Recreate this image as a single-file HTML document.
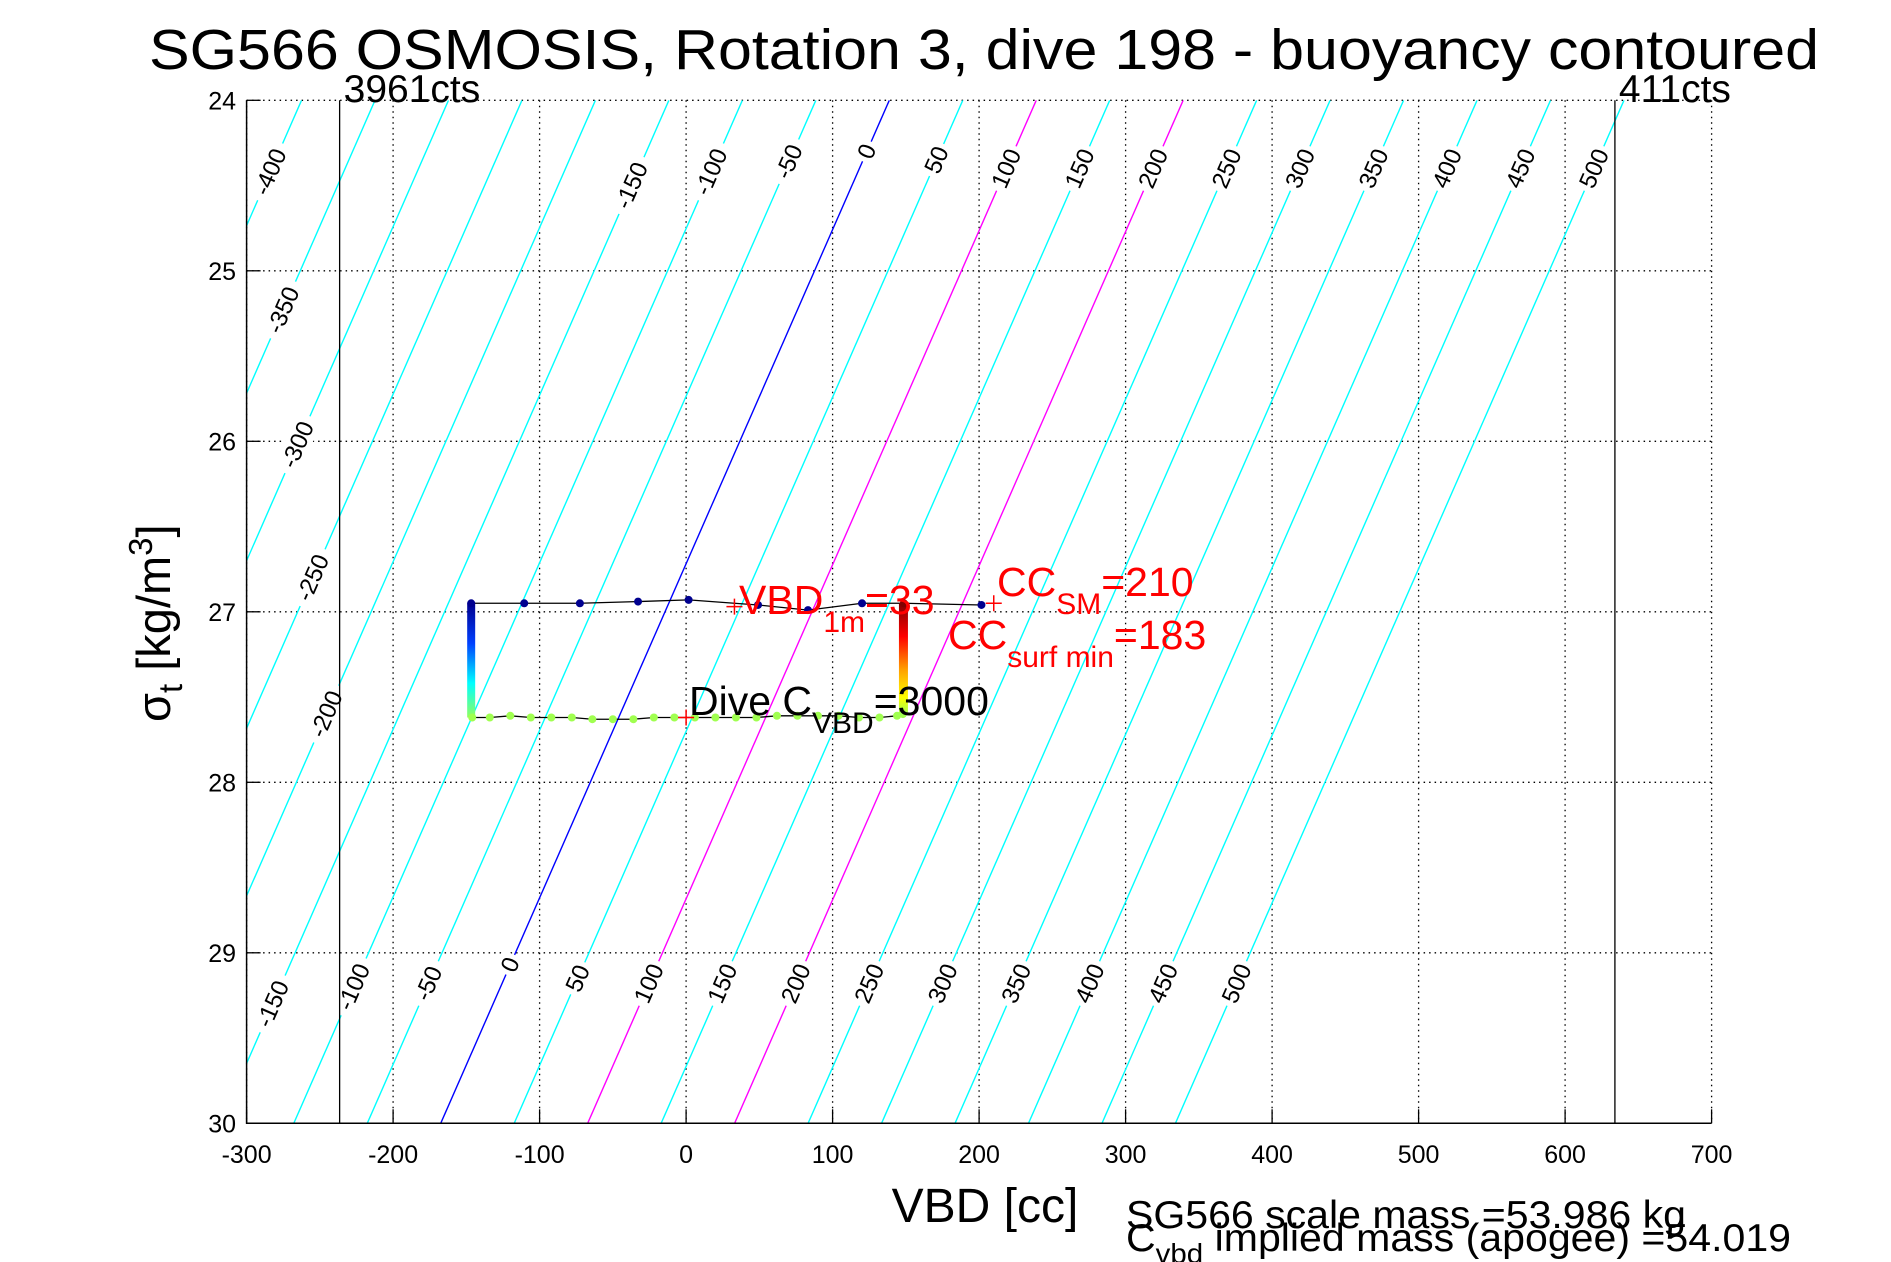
<!DOCTYPE html>
<html><head><meta charset="utf-8"><style>
html,body{margin:0;padding:0;background:#fff;}
svg{display:block;font-family:"Liberation Sans",Arial,sans-serif;}
</style></head><body>
<svg id="chart" width="1891" height="1262" viewBox="0 0 1891 1262" xmlns="http://www.w3.org/2000/svg">
<defs>
<linearGradient id="gDown" x1="0" y1="0" x2="0" y2="1">
<stop offset="0" stop-color="#00008f"/><stop offset="0.35" stop-color="#0040ff"/><stop offset="0.7" stop-color="#00ffff"/><stop offset="1" stop-color="#90ff60"/>
</linearGradient>
<linearGradient id="gUp" x1="0" y1="0" x2="0" y2="1">
<stop offset="0" stop-color="#800000"/><stop offset="0.3" stop-color="#ff0000"/><stop offset="0.6" stop-color="#ffa000"/><stop offset="0.85" stop-color="#ffff00"/><stop offset="1" stop-color="#a0ff50"/>
</linearGradient>
</defs>
<text x="984" y="69" font-size="57" text-anchor="middle" textLength="1670" lengthAdjust="spacingAndGlyphs">SG566 OSMOSIS, Rotation 3, dive 198 - buoyancy contoured</text>
<g id="grid"></g>
<g id="contours"></g>
<g id="series"></g>
<g id="axes"></g>
<text x="985" y="1222" font-size="48" text-anchor="middle">VBD [cc]</text>
<text transform="translate(170,722) rotate(-90)" font-size="47">σ<tspan font-size="33" dy="12">t</tspan><tspan dy="-12"> [kg/m</tspan><tspan font-size="33" dy="-18">3</tspan><tspan dy="18">]</tspan></text>
<text x="1126" y="1228" font-size="39" textLength="560" lengthAdjust="spacingAndGlyphs">SG566 scale mass =53.986 kg</text>
<text x="1126" y="1251" font-size="39" textLength="665" lengthAdjust="spacingAndGlyphs">C<tspan font-size="28" dy="12">vbd</tspan><tspan dy="-12"> implied mass (apogee) =54.019</tspan></text>
</svg>
<script>
const xTicks=[-300,-200,-100,0,100,200,300,400,500,600,700];
const yTicks=[24,25,26,27,28,29,30];
const contourLevels=[-400,-350,-300,-250,-200,-150,-100,-50,0,50,100,150,200,250,300,350,400,450,500];
const topLabelLevels=[-150,-100,-50,0,50,100,150,200,250,300,350,400,450,500];
const topLabelSigma=[24.5,24.42,24.36,24.3,24.35,24.4,24.4,24.4,24.4,24.4,24.4,24.4,24.4,24.4];
const leftLabelLevels=[-400,-350,-300,-250,-200];
const leftLabelSigma=[24.42,25.23,26.02,26.8,27.6];
const bottomLabelLevels=[-150,-100,-50,0,50,100,150,200,250,300,350,400,450,500];
const bottomLabelSigma=[29.3,29.2,29.18,29.07,29.15,29.18,29.18,29.18,29.18,29.18,29.18,29.18,29.18,29.18];
const countLines=[-236.5,634];
const countLabels=["3961cts","411cts"];
const diveVBD=[-146.7,-110.5,-72.5,-32.8,1.7,49.1,83.2,120.1,148.7,201.6];
const diveSigma=[26.95,26.95,26.95,26.94,26.93,26.96,26.99,26.95,26.95,26.96];
const climbVBD=[-146,-134,-120,-106,-92,-78,-64,-50,-36,-22,-8,6,20,34,48,62,76,90,104,118,132,144,148];
const climbSigma=[27.62,27.62,27.61,27.62,27.62,27.62,27.63,27.63,27.63,27.62,27.62,27.62,27.62,27.62,27.62,27.61,27.61,27.61,27.61,27.62,27.62,27.61,27.6];
const X0=246.6,XS=1.465,Y0=100.3,YS=170.5;
const NS="http://www.w3.org/2000/svg";
function sx(v){return X0+(v+300)*XS;}
function sy(s){return Y0+(s-24)*YS;}
function cv(c,s){return 138.7+1.003*c-51.03*(s-24);}
function mk(tag,attrs,parent){const e=document.createElementNS(NS,tag);for(const k in attrs)e.setAttribute(k,attrs[k]);parent.appendChild(e);return e;}
const grid=document.getElementById('grid'),axes=document.getElementById('axes'),cont=document.getElementById('contours'),ser=document.getElementById('series');
const L=sx(-300),R=sx(700),T=sy(24),B=sy(30);
xTicks.forEach(v=>{
 const g=mk('line',{x1:sx(v),x2:sx(v),y1:T,y2:B,stroke:'#000','stroke-width':1.3,'stroke-dasharray':'1.5 4'},grid);
 
 
 const t=mk('line',{x1:sx(v),x2:sx(v),y1:B,y2:B-14,stroke:'#000','stroke-width':1.3},axes);
 
 
 const l=mk('text',{x:sx(v),y:1163,'font-size':25,'text-anchor':'middle'},axes);l.textContent=v;
 
 
});
yTicks.forEach(v=>{
 const g=mk('line',{x1:L,x2:R,y1:sy(v),y2:sy(v),stroke:'#000','stroke-width':1.3,'stroke-dasharray':'1.5 4'},grid);
 
 
 const t=mk('line',{x1:L,x2:L+14,y1:sy(v),y2:sy(v),stroke:'#000','stroke-width':1.3},axes);
 
 
 const l=mk('text',{x:236,y:sy(v)+9,'font-size':25,'text-anchor':'end'},axes);l.textContent=v;
 
 
});
const ax=mk('path',{d:`M${L},${T}V${B}H${R}`,fill:'none',stroke:'#000','stroke-width':1.5},axes);


const clip=mk('clipPath',{id:'plotclip'},document.querySelector('defs'));
mk('rect',{x:L,y:T,width:R-L,height:B-T},clip);
cont.setAttribute('clip-path','url(#plotclip)');
contourLevels.forEach(c=>{
 const col=c===0?'#0000ff':(c===100||c===200)?'#ff00ff':'#00ffff';
 const ln=mk('line',{x1:sx(cv(c,24)),y1:sy(24),x2:sx(cv(c,30)),y2:sy(30),stroke:col,'stroke-width':1.4},cont);
 
 
});
const ang=-Math.atan2(YS,51.03*XS)*180/Math.PI;
function addLabel(c,s){
 const x=sx(cv(c,s)),y=sy(s);
 const g=mk('g',{transform:`translate(${x},${y}) rotate(${ang})`},cont);
 
 
 const w=String(c).length*13.5+8;
 mk('rect',{x:-w/2,y:-13,width:w,height:26,fill:'#fff'},g);
 const t=mk('text',{x:0,y:8,'font-size':24,'text-anchor':'middle'},g);t.textContent=c;
}
topLabelLevels.forEach((c,i)=>addLabel(c,topLabelSigma[i]));
leftLabelLevels.forEach((c,i)=>addLabel(c,leftLabelSigma[i]));
bottomLabelLevels.forEach((c,i)=>addLabel(c,bottomLabelSigma[i]));
countLines.forEach((v,i)=>{
 const l=mk('line',{x1:sx(v),x2:sx(v),y1:T,y2:B,stroke:'#000','stroke-width':1.3},axes);
 
 
 const t=mk('text',{x:sx(v)+4,y:102,'font-size':39},axes);t.textContent=countLabels[i];
 
 
});
const pathD=(xs,ys)=>xs.map((v,i)=>(i?'L':'M')+sx(v)+','+sy(ys[i])).join('');
const dl=mk('path',{d:pathD(diveVBD,diveSigma),fill:'none',stroke:'#000','stroke-width':1.3},ser);


const cl=mk('path',{d:pathD(climbVBD,climbSigma),fill:'none',stroke:'#000','stroke-width':1.3},ser);


const vd=mk('rect',{x:sx(diveVBD[0])-4,y:sy(diveSigma[0]),width:8,height:sy(climbSigma[0])-sy(diveSigma[0]),fill:'url(#gDown)'},ser);


const vu=mk('rect',{x:sx(diveVBD[8])-5,y:sy(diveSigma[8]),width:9,height:sy(climbSigma[climbSigma.length-1])-sy(diveSigma[8]),fill:'url(#gUp)'},ser);


diveVBD.forEach((v,i)=>{
 const c=mk('circle',{cx:sx(v),cy:sy(diveSigma[i]),r:4,fill:i===8?'#800000':'#00008f'},ser);
 
 
});
climbVBD.forEach((v,i)=>{
 const c=mk('circle',{cx:sx(v),cy:sy(climbSigma[i]),r:4,fill:'#a0ff50'},ser);
 
 
});
function plus(v,s,name){const g=mk('path',{d:`M${sx(v)-8},${sy(s)}h16M${sx(v)},${sy(s)-8}v16`,stroke:'#ff0000','stroke-width':1.5},ser);
 
 }
plus(33,26.97,'vbd-1m-marker');plus(0,27.62,'dive-cvbd-marker');plus(210,26.95,'cc-sm-marker');
function txt(x,y,html,fill,name){const t=mk('text',{x:x,y:y,'font-size':41,fill:fill},ser);t.innerHTML=html;
 
 }
txt(739,614,'VBD<tspan font-size="30" dy="18">1m</tspan><tspan dy="-18">=33</tspan>','#ff0000','vbd-1m-annotation');
txt(997,596,'CC<tspan font-size="30" dy="18">SM</tspan><tspan dy="-18">=210</tspan>','#ff0000','cc-sm-annotation');
txt(948,649,'CC<tspan font-size="30" dy="18">surf min</tspan><tspan dy="-18">=183</tspan>','#ff0000','cc-surf-min-annotation');
txt(689,715,'Dive C<tspan font-size="30" dy="18">VBD</tspan><tspan dy="-18">=3000</tspan>','#000','dive-cvbd-annotation');
</script>
</body></html>
